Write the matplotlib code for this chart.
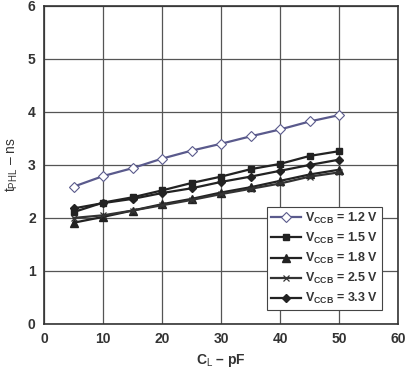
import matplotlib
matplotlib.use("Agg")
import matplotlib.pyplot as plt

plt.rcParams['font.family'] = ['Liberation Sans', 'DejaVu Sans']
plt.rcParams['mathtext.fontset'] = 'custom'
plt.rcParams['mathtext.rm'] = 'Liberation Sans'
plt.rcParams['mathtext.bf'] = 'Liberation Sans:bold'
plt.rcParams['mathtext.it'] = 'Liberation Sans:italic'

cl = [5, 10, 15, 20, 25, 30, 35, 40, 45, 50]
v12 = [2.59, 2.79, 2.94, 3.12, 3.27, 3.40, 3.54, 3.67, 3.82, 3.94]
v15 = [2.11, 2.29, 2.39, 2.52, 2.66, 2.78, 2.92, 3.02, 3.17, 3.26]
v18 = [1.91, 2.02, 2.14, 2.26, 2.36, 2.48, 2.58, 2.70, 2.82, 2.91]
v25 = [2.00, 2.05, 2.14, 2.24, 2.34, 2.45, 2.55, 2.65, 2.78, 2.86]
v33 = [2.18, 2.28, 2.36, 2.47, 2.56, 2.68, 2.78, 2.89, 3.00, 3.10]
labels = ["1.2 V", "1.5 V", "1.8 V", "2.5 V", "3.3 V"]

fig = plt.figure(figsize=(4.08, 3.69), dpi=100)
ax = fig.add_axes([0.108, 0.122, 0.868, 0.862])

series = [v12, v15, v18, v25, v33]
styles = [
    dict(color='#5a5a8c', marker='D', markersize=5, markerfacecolor='white', markeredgecolor='#5a5a8c', markeredgewidth=0.8, lw=1.6),
    dict(color='#222222', marker='s', markersize=5, lw=1.6),
    dict(color='#222222', marker='^', markersize=6, lw=1.6),
    dict(color='#333333', marker='x', markersize=5, markeredgewidth=0.9, lw=1.6),
    dict(color='#222222', marker='D', markersize=4.5, lw=1.6),
]
for vals, lab, st in zip(series, labels, styles):
    ax.plot(cl, vals, label=r'V$_{\mathbf{CCB}}$ = ' + lab, **st)

ax.set_xlim(0, 60)
ax.set_ylim(0, 6)
ax.set_xticks(range(0, 61, 10))
ax.set_yticks(range(0, 7))
ax.grid(True, color='#555555', lw=0.9)
ax.set_axisbelow(True)
for s in ax.spines.values():
    s.set_color('#333333')
    s.set_linewidth(1.2)
ax.tick_params(length=0, labelsize=10, pad=6)
for t in ax.get_xticklabels() + ax.get_yticklabels():
    t.set_fontweight('bold')
    t.set_color('#333333')

ax.set_xlabel(r'C$_\mathrm{L}$ – pF', fontsize=10, fontweight='bold', color='#333333', labelpad=4)
ax.set_ylabel(r't$_\mathrm{PHL}$ – ns', fontsize=10, color='#333333', labelpad=6)

leg = ax.legend(loc='upper left', bbox_to_anchor=(0.63, 0.368), frameon=True,
                fancybox=False, edgecolor='#444444', framealpha=1,
                prop={'weight': 'bold', 'size': 9}, handlelength=2.4,
                borderpad=0.3, labelspacing=0.4, handletextpad=0.3, borderaxespad=0)
leg.get_frame().set_linewidth(0.8)
for t in leg.get_texts():
    t.set_color('#333333')

fig.savefig('out.png', dpi=100)
